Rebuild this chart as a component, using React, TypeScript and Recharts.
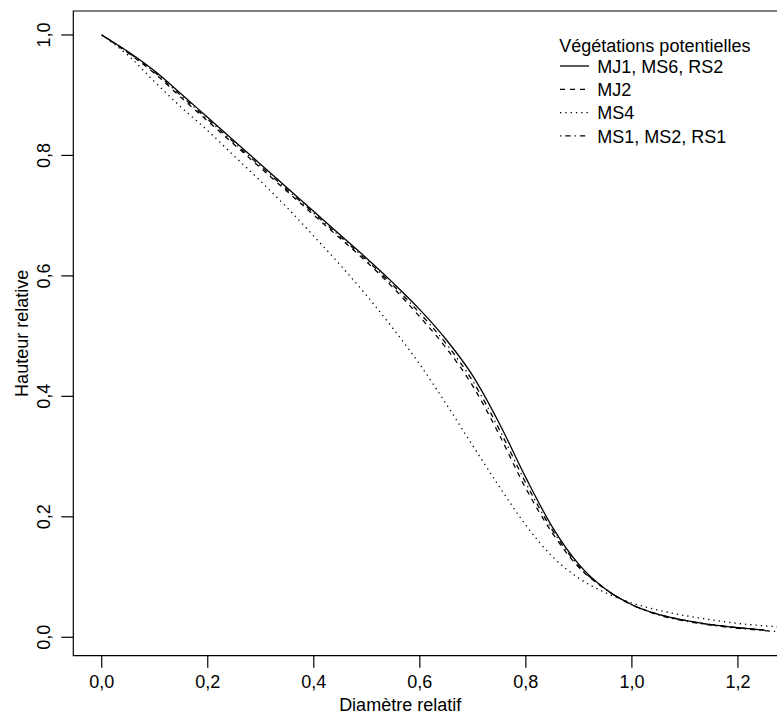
import { Line, LineChart, ReferenceArea, XAxis, YAxis } from "recharts";

// relative diameter (x) and relative height per vegetation group
const diam = [
  0, 0.05, 0.1, 0.15, 0.2, 0.25, 0.3, 0.35, 0.4, 0.45, 0.5, 0.55, 0.6, 0.65,
  0.7, 0.75, 0.8, 0.85, 0.9, 0.95, 1.0, 1.05, 1.1, 1.15, 1.2, 1.25, 1.3
];
const mj1Ms6Rs2 = [
  1.0, 0.972, 0.94, 0.902, 0.863, 0.824, 0.785, 0.746, 0.707, 0.668, 0.629,
  0.588, 0.544, 0.494, 0.434, 0.355, 0.265, 0.183, 0.121, 0.08, 0.054, 0.038,
  0.028, 0.021, 0.016, 0.012, null
];
const mj2 = [
  1.0, 0.97, 0.936, 0.896, 0.857, 0.818, 0.779, 0.74, 0.701, 0.662, 0.623,
  0.58, 0.532, 0.48, 0.417, 0.336, 0.247, 0.173, 0.116, 0.08, 0.054, 0.038,
  0.028, 0.021, 0.016, 0.012, null
];
const ms4 = [
  1.0, 0.966, 0.922, 0.88, 0.841, 0.799, 0.757, 0.713, 0.666, 0.618, 0.567,
  0.512, 0.453, 0.387, 0.318, 0.25, 0.186, 0.134, 0.098, 0.074, 0.057,
  0.045, 0.036, 0.029, 0.023, 0.019, 0.016
];
const ms1Ms2Rs1 = [
  1.0, 0.971, 0.938, 0.899, 0.86, 0.821, 0.782, 0.743, 0.704, 0.665, 0.626,
  0.584, 0.538, 0.487, 0.425, 0.345, 0.256, 0.178, 0.118, 0.08, 0.054, 0.037,
  0.027, 0.02, 0.015, 0.011, 0.008
];

const xTicks = [0, 0.2, 0.4, 0.6, 0.8, 1.0, 1.2];
const yTicks = [0, 0.2, 0.4, 0.6, 0.8, 1.0];
const xDomain: [number, number] = [-0.0536, 1.285];
const yDomain: [number, number] = [-0.0306, 1.0398];

const series = [
  { key: "s1", label: "MJ1, MS6, RS2", dash: undefined },
  { key: "s2", label: "MJ2", dash: "5 5" },
  { key: "s3", label: "MS4", dash: "1.3 4" },
  { key: "s4", label: "MS1, MS2, RS1", dash: "1.3 4 5.3 4" }
];

const data = diam.map((x, i) => ({
  x,
  s1: mj1Ms6Rs2[i],
  s2: mj2[i],
  s3: ms4[i],
  s4: ms1Ms2Rs1[i]
}));

const FONT = "'Liberation Sans', Arial, sans-serif";
const fmt = (v: number) => v.toFixed(1).replace(".", ",");

function XTick({ x, y, payload }: any) {
  return (
    <text x={x} y={y + 18.6} textAnchor="middle" fontSize={18} fill="#000">
      {fmt(payload.value)}
    </text>
  );
}

function YTick({ x, y, payload }: any) {
  const bx = x - 9;
  return (
    <text
      x={bx}
      y={y}
      transform={`rotate(-90, ${bx}, ${y})`}
      textAnchor="middle"
      fontSize={18}
      fill="#000"
    >
      {fmt(payload.value)}
    </text>
  );
}

function Legend() {
  return (
    <svg
      width={230}
      height={130}
      style={{ position: "absolute", left: 550, top: 25, fontFamily: FONT }}
    >
      <text x={9.3} y={26.7} fontSize={18} fill="#000">
        Végétations potentielles
      </text>
      {series.map((s, i) => {
        const cy = 41 + i * 23.3;
        return (
          <g key={s.key}>
            <line
              x1={10}
              x2={39}
              y1={cy}
              y2={cy}
              stroke="#000"
              strokeWidth={1.3}
              strokeDasharray={s.dash}
            />
            <text x={47.3} y={cy + 6.7} fontSize={18} fill="#000">
              {s.label}
            </text>
          </g>
        );
      })}
    </svg>
  );
}

export default function App() {
  return (
    <div
      style={{
        position: "absolute",
        left: 0,
        top: 0,
        width: 777,
        height: 717,
        overflow: "hidden",
        background: "#fff",
        fontFamily: FONT
      }}
    >
      <LineChart
        width={800}
        height={717}
        data={data}
        margin={{ top: 11, right: 17, bottom: 0, left: 0 }}
        style={{ fontFamily: FONT }}
      >
        <XAxis
          dataKey="x"
          type="number"
          domain={xDomain}
          allowDataOverflow
          ticks={xTicks}
          tick={<XTick />}
          tickSize={12}
          tickMargin={2}
          height={61.3}
          axisLine={false}
          tickLine={{ stroke: "#000", strokeWidth: 1.2 }}
          label={({ viewBox }: any) => (
            <text
              x={viewBox.x + viewBox.width / 2 - 28}
              y={viewBox.y + 55.5}
              textAnchor="middle"
              fontSize={18}
              fill="#000"
            >
              Diamètre relatif
            </text>
          )}
        />
        <YAxis
          type="number"
          domain={yDomain}
          allowDataOverflow
          ticks={yTicks}
          tick={<YTick />}
          tickSize={12}
          tickMargin={2}
          width={73.3}
          axisLine={false}
          tickLine={{ stroke: "#000", strokeWidth: 1.2 }}
          label={({ viewBox }: any) => {
            const cx = viewBox.x + 28;
            const cy = viewBox.y + viewBox.height / 2;
            return (
              <text
                x={cx}
                y={cy}
                transform={`rotate(-90, ${cx}, ${cy})`}
                textAnchor="middle"
                fontSize={18}
                fill="#000"
              >
                Hauteur relative
              </text>
            );
          }}
        />
        <ReferenceArea
          x1={xDomain[0]}
          x2={xDomain[1]}
          y1={yDomain[0]}
          y2={yDomain[1]}
          fill="none"
          stroke="#000"
          strokeWidth={1.2}
          ifOverflow="visible"
        />
        {series.map((s) => (
          <Line
            key={s.key}
            dataKey={s.key}
            type="monotone"
            stroke="#000"
            strokeWidth={1.3}
            strokeDasharray={s.dash}
            dot={false}
            activeDot={false}
            isAnimationActive={false}
          />
        ))}
      </LineChart>
      <Legend />
    </div>
  );
}
